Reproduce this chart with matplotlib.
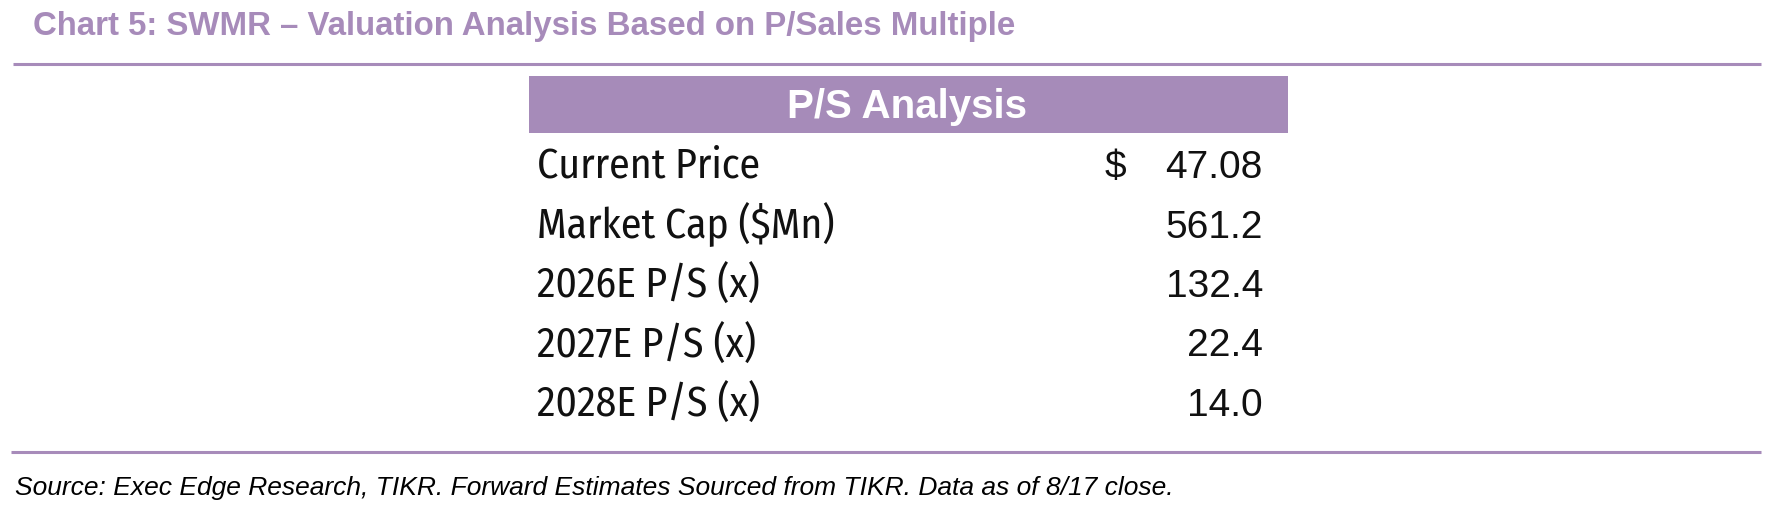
import matplotlib
matplotlib.use("Agg")
import matplotlib.pyplot as plt
from matplotlib.patches import Rectangle

title = "Chart 5: SWMR \u2013 Valuation Analysis Based on P/Sales Multiple"
header = "P/S Analysis"
row_labels = ["Current Price", "Market Cap ($Mn)", "2026E P/S (x)", "2027E P/S (x)", "2028E P/S (x)"]
row_values = [47.08, 561.2, 132.4, 22.4, 14.0]
row_formats = ["{:.2f}", "{:.1f}", "{:.1f}", "{:.1f}", "{:.1f}"]
row_prefix = ["$", "", "", "", ""]
source = "Source: Exec Edge Research, TIKR. Forward Estimates Sourced from TIKR. Data as of 8/17 close."

purple = "#a78bba"
narrow = ["Fira Sans Condensed", "Liberation Sans"]

W, H = 1770, 512
fig = plt.figure(figsize=(W / 100, H / 100), dpi=100)
ax = fig.add_axes([0, 0, 1, 1])
ax.set_xlim(0, W)
ax.set_ylim(H, 0)
ax.axis("off")

# title and rules
ax.text(33, 35, title, fontsize=23.8, fontweight="bold", color=purple,
        family="Liberation Sans", va="baseline", ha="left")
ax.plot([13, 1761], [64, 64], color=purple, lw=2.2, solid_capstyle="butt")
ax.plot([11, 1761], [452, 452], color=purple, lw=2.2, solid_capstyle="butt")

# table header
ax.add_patch(Rectangle((529, 76), 1288 - 529, 57, facecolor="#a68bb9", edgecolor="none"))
ax.text(907, 118, header, fontsize=29, fontweight="bold", color="white",
        family="Liberation Sans", va="baseline", ha="center")

# table rows
row_y0, row_step = 178, 59.5
for i, (lab, val, fmt, pre) in enumerate(zip(row_labels, row_values, row_formats, row_prefix)):
    y = row_y0 + i * row_step
    ax.text(537, y, lab, fontsize=30, color="#111111",
            family=narrow, va="baseline", ha="left")
    ax.text(1263, y, fmt.format(val), fontsize=28, color="#111111",
            family="Liberation Sans", va="baseline", ha="right")
    if pre:
        ax.text(1105, y, pre, fontsize=28, color="#111111",
                family="Liberation Sans", va="baseline", ha="left")

ax.text(15, 495, source, fontsize=19, style="italic", color="black",
        family="Liberation Sans", va="baseline", ha="left")

fig.savefig("out.png", dpi=100, facecolor="white")
